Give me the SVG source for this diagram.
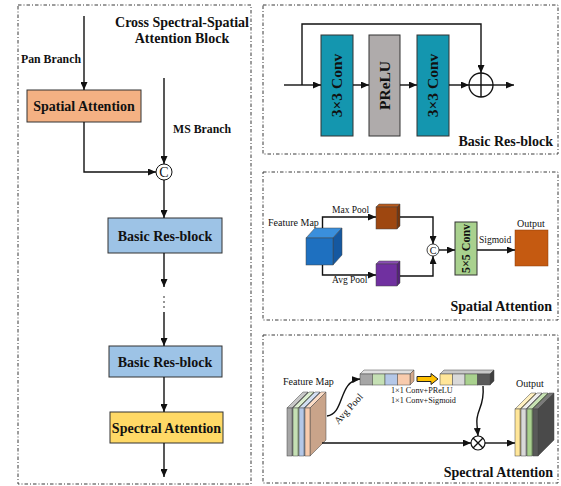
<svg xmlns="http://www.w3.org/2000/svg" width="561" height="486" viewBox="0 0 561 486">
<defs>
<marker id="ah" markerUnits="userSpaceOnUse" markerWidth="8" markerHeight="7" refX="8" refY="3.5" orient="auto"><path d="M0,0 L8,3.5 L0,7 z" fill="#111"/></marker>
<style>
.panel{fill:none;stroke:#3a3a3a;stroke-width:1;stroke-dasharray:3.5,2,1,2}
.ln{fill:none;stroke:#111;stroke-width:1.4}
.arr{fill:none;stroke:#111;stroke-width:1.4;marker-end:url(#ah)}
.box{stroke:#333;stroke-width:1}
.bt{font-family:"Liberation Serif",serif;font-weight:bold;fill:#111}
.rt{font-family:"Liberation Serif",serif;fill:#111}
.pl{stroke:#444;stroke-width:0.5}
</style>
</defs>
<rect width="561" height="486" fill="#fff"/>
<!-- panels -->
<rect class="panel" x="18" y="5" width="233" height="479"/>
<rect class="panel" x="263" y="5" width="295" height="149"/>
<rect class="panel" x="263" y="172" width="295" height="148"/>
<rect class="panel" x="263" y="335" width="295" height="148"/>

<!-- left panel -->
<g id="left-title">
<text class="bt" x="182" y="27" font-size="14" text-anchor="middle">Cross Spectral-Spatial</text>
<text class="bt" x="182" y="43" font-size="14" text-anchor="middle">Attention Block</text>
<text class="bt" x="21" y="63" font-size="11.8">Pan Branch</text>
<text class="bt" x="173" y="133" font-size="11.8">MS Branch</text>
</g>
<g id="spatial-attention-node">
<rect class="box" x="27" y="90" width="114" height="32" fill="#F4B183"/>
<text class="bt" x="84" y="111" font-size="14" text-anchor="middle">Spatial Attention</text>
</g>
<g id="concat-node">
<circle cx="164" cy="172" r="8" fill="#fff" stroke="#111" stroke-width="1"/>
<text class="rt" x="164" y="177" font-size="14" text-anchor="middle">C</text>
</g>
<g id="res-block-1">
<rect class="box" x="108" y="218" width="114" height="35" fill="#9DC3E6"/>
<text class="bt" x="165" y="240.5" font-size="14" text-anchor="middle">Basic Res-block</text>
</g>
<g id="res-block-2">
<rect class="box" x="109" y="346" width="113" height="31" fill="#9DC3E6"/>
<text class="bt" x="165" y="366.5" font-size="14" text-anchor="middle">Basic Res-block</text>
</g>
<g id="spectral-attention-node">
<rect class="box" x="110" y="412" width="113" height="31" fill="#FFD966"/>
<text class="bt" x="166.5" y="432.5" font-size="14" text-anchor="middle">Spectral Attention</text>
</g>
<g id="left-connectors">
<path class="arr" d="M84,16 L84,90"/>
<path class="arr" d="M84,122 L84,172 L156,172"/>
<path class="arr" d="M164,78 L164,164"/>
<path class="arr" d="M164,180 L164,218"/>
<path class="arr" d="M164,253 L164,287"/>
<circle cx="164" cy="297" r="0.8" fill="#111"/>
<circle cx="164" cy="302" r="0.8" fill="#111"/>
<circle cx="164" cy="307" r="0.8" fill="#111"/>
<path class="arr" d="M164,312 L164,346"/>
<path class="arr" d="M164,377 L164,412"/>
<path class="arr" d="M164,443 L164,477"/>
</g>

<!-- Basic Res-block panel -->
<g id="conv3-1">
<rect class="box" x="321" y="35" width="32" height="101" fill="#1496AF"/>
<text class="bt" transform="translate(337,85.5) rotate(-90)" font-size="15.5" text-anchor="middle" dy="0.35em">3×3 Conv</text>
</g>
<g id="prelu">
<rect class="box" x="369" y="35" width="31" height="101" fill="#AFABAB"/>
<text class="bt" transform="translate(384.5,85.5) rotate(-90)" font-size="15.5" text-anchor="middle" dy="0.35em">PReLU</text>
</g>
<g id="conv3-2">
<rect class="box" x="417" y="35" width="32" height="101" fill="#1496AF"/>
<text class="bt" transform="translate(433,85.5) rotate(-90)" font-size="15.5" text-anchor="middle" dy="0.35em">3×3 Conv</text>
</g>
<g id="sum-node">
<circle cx="481" cy="85" r="12" fill="#fff" stroke="#111" stroke-width="1.3"/>
<path class="ln" d="M469,85 L493,85 M481,73 L481,97" stroke-width="1.2"/>
</g>
<g id="res-connectors">
<path class="ln" d="M284,85 L302,85"/>
<path class="arr" d="M302,85 L321,85"/>
<path class="arr" d="M302,85 L302,24 L481,24 L481,73"/>
<path class="arr" d="M353,85 L369,85"/>
<path class="arr" d="M400,85 L417,85"/>
<path class="arr" d="M449,85 L469,85"/>
<path class="arr" d="M493,85 L514,85"/>
</g>
<text class="bt" x="553" y="146" font-size="14" text-anchor="end">Basic Res-block</text>

<!-- Spatial Attention panel -->
<g id="sa-feature-map">
<text class="rt" x="268" y="226" font-size="10">Feature Map</text>
<polygon points="306,238 315,228 342,228 333,238" fill="#3A8FDC" class="pl"/>
<polygon points="333,238 342,228 342,255 333,265" fill="#1558A0" class="pl"/>
<rect x="306" y="238" width="27" height="27" fill="#1E70C0" class="pl"/>
</g>
<g id="sa-maxpool">
<text class="rt" x="332" y="213" font-size="9.5">Max Pool</text>
<polygon points="376,207 379,204 400,204 397,207" fill="#B85A1C" class="pl"/>
<polygon points="397,207 400,204 400,226 397,229" fill="#7A3509" class="pl"/>
<rect x="376" y="207" width="21" height="22" fill="#9E4710" class="pl"/>
</g>
<g id="sa-avgpool">
<text class="rt" x="332" y="283" font-size="9.5">Avg Pool</text>
<polygon points="376,264 379,261 400,261 397,264" fill="#8A4DB5" class="pl"/>
<polygon points="397,264 400,261 400,283 397,286" fill="#56207D" class="pl"/>
<rect x="376" y="264" width="21" height="22" fill="#7030A0" class="pl"/>
</g>
<g id="sa-concat">
<circle cx="433" cy="250" r="6" fill="#fff" stroke="#111" stroke-width="0.8"/>
<text class="rt" x="433" y="253.5" font-size="10" text-anchor="middle">C</text>
</g>
<g id="sa-conv5">
<rect class="box" x="455" y="222" width="22" height="53" fill="#A9D18E"/>
<text class="bt" transform="translate(466,248.5) rotate(-90)" font-size="12" text-anchor="middle" dy="0.35em">5×5 Conv</text>
</g>
<g id="sa-output">
<text class="rt" x="517" y="227" font-size="10">Output</text>
<rect x="515" y="230" width="33" height="36" fill="#C55A11" stroke="#8a3c08" stroke-width="0.5"/>
</g>
<g id="sa-connectors">
<path class="arr" d="M322.5,228 L322.5,217 L376,217"/>
<path class="arr" d="M322.5,265 L322.5,275 L376,275"/>
<path class="arr" d="M400,217 L433,217 L433,244"/>
<path class="arr" d="M400,276 L433,276 L433,256"/>
<path class="arr" d="M439,250 L455,250"/>
<path class="arr" d="M477,250 L515,250"/>
<text class="rt" x="479" y="243" font-size="9.5">Sigmoid</text>
</g>
<text class="bt" x="552" y="311" font-size="14" text-anchor="end">Spatial Attention</text>

<!-- Spectral Attention panel -->
<g id="spe-feature-map">
<text class="rt" x="283" y="385" font-size="10">Feature Map</text>
<g>
<polygon class="pl" points="287,408 303,392 308,392 292,408" fill="#C8C8C8"/>
<polygon class="pl" points="292,408 308,392 308,440 292,456" fill="#8C8C8C"/>
<rect class="pl" x="287" y="408" width="5" height="48" fill="#A6A6A6"/>
</g>
<g>
<polygon class="pl" points="293,408 309,392 314,392 298,408" fill="#DCEED0"/>
<polygon class="pl" points="298,408 314,392 314,440 298,456" fill="#A9C99A"/>
<rect class="pl" x="293" y="408" width="5" height="48" fill="#C5E0B4"/>
</g>
<g>
<polygon class="pl" points="299,408 315,392 320,392 304,408" fill="#D2DEF2"/>
<polygon class="pl" points="304,408 320,392 320,440 304,456" fill="#98ADD0"/>
<rect class="pl" x="299" y="408" width="5" height="48" fill="#B4C7E7"/>
</g>
<g>
<polygon class="pl" points="305,408 321,392 326,392 310,408" fill="#FBDCC6"/>
<polygon class="pl" points="310,408 326,392 326,440 310,456" fill="#C9A48A"/>
<rect class="pl" x="305" y="408" width="5" height="48" fill="#F8CBAD"/>
</g>
</g>
<g id="spe-pooled-vector">
<polygon class="pl" points="360,374 364,370 414,370 410,374" fill="#E0E0E0"/>
<polygon class="pl" points="410,374 414,370 414,381 410,385" fill="#D4A98C"/>
<rect class="pl" x="360" y="374" width="12.5" height="11" fill="#A6A6A6"/>
<rect class="pl" x="372.5" y="374" width="12.5" height="11" fill="#C5E0B4"/>
<rect class="pl" x="385" y="374" width="12.5" height="11" fill="#B4C7E7"/>
<rect class="pl" x="397.5" y="374" width="12.5" height="11" fill="#F8CBAD"/>
</g>
<g id="spe-yellow-arrow">
<polygon points="417,376.5 431,376.5 431,373.5 438,379 431,384.5 431,381.5 417,381.5" fill="#FFC000" stroke="#222" stroke-width="1"/>
</g>
<g id="spe-weight-vector">
<polygon class="pl" points="440,374 444,370 494,370 490,374" fill="#C8C8C8"/>
<polygon class="pl" points="490,374 494,370 494,381 490,385" fill="#3F3F3F"/>
<rect class="pl" x="440" y="374" width="12.5" height="11" fill="#FFE699"/>
<rect class="pl" x="452.5" y="374" width="12.5" height="11" fill="#D9D9D9"/>
<rect class="pl" x="465" y="374" width="12.5" height="11" fill="#A9D18E"/>
<rect class="pl" x="477.5" y="374" width="12.5" height="11" fill="#595959"/>
<text class="rt" x="391" y="393" font-size="8.2">1×1 Conv+PReLU</text>
<text class="rt" x="391" y="403" font-size="8.2">1×1 Conv+Sigmoid</text>
</g>
<g id="spe-multiply">
<circle cx="478" cy="443" r="7" fill="#fff" stroke="#111" stroke-width="1.2"/>
<path class="ln" d="M473,438 L483,448 M483,438 L473,448" stroke-width="1.1"/>
</g>
<g id="spe-output">
<text class="rt" x="516" y="387" font-size="10">Output</text>
<g>
<polygon class="pl" points="515,409 531,393 536,393 520,409" fill="#FFF0C0"/>
<polygon class="pl" points="520,409 536,393 536,440 520,456" fill="#E6CC7A"/>
<rect class="pl" x="515" y="409" width="5" height="47" fill="#FFE699"/>
</g>
<g>
<polygon class="pl" points="521,409 537,393 542,393 526,409" fill="#EDEDED"/>
<polygon class="pl" points="526,409 542,393 542,440 526,456" fill="#B0B0B0"/>
<rect class="pl" x="521" y="409" width="5" height="47" fill="#D9D9D9"/>
</g>
<g>
<polygon class="pl" points="527,409 543,393 548,393 532,409" fill="#C7E3B3"/>
<polygon class="pl" points="532,409 548,393 548,440 532,456" fill="#86AE6C"/>
<rect class="pl" x="527" y="409" width="5" height="47" fill="#A9D18E"/>
</g>
<g>
<polygon class="pl" points="533,409 549,393 554,393 538,409" fill="#7A7A7A"/>
<polygon class="pl" points="538,409 554,393 554,440 538,456" fill="#4A4A4A"/>
<rect class="pl" x="533" y="409" width="5" height="47" fill="#595959"/>
</g>
</g>
<g id="spe-connectors">
<path class="arr" d="M327,416 C345,414 338,381 360,379"/>
<text class="rt" transform="translate(351,411) rotate(-48)" font-size="10" text-anchor="middle">Avg Pool</text>
<path class="arr" d="M322,443 L471,443"/>
<path class="arr" d="M485,443 L515,443"/>
<path class="arr" d="M483,386 C485,408 475,410 477,425 L478,436"/>
</g>
<text class="bt" x="553" y="477" font-size="14" text-anchor="end">Spectral Attention</text>
</svg>
